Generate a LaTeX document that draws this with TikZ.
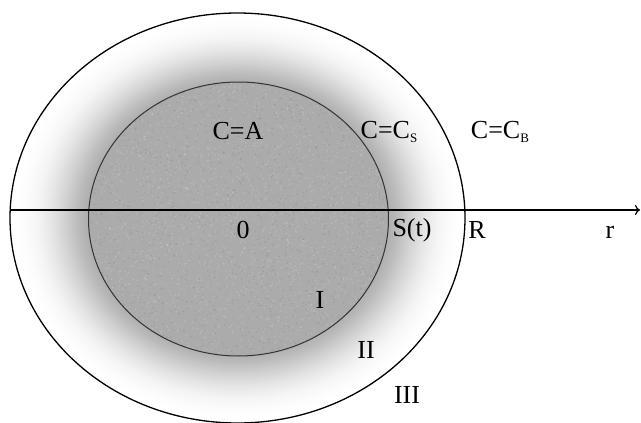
\documentclass[tikz,border=0pt]{standalone}
\usepackage{fontspec}
\setmainfont{Liberation Serif}
\usetikzlibrary{arrows.meta}
\pgfdeclareradialshading{annulus}{\pgfpoint{0bp}{0bp}}{%
  color(0bp)=(black!34);
  color(16bp)=(black!34);
  color(17.5bp)=(black!27);
  color(19bp)=(black!18);
  color(20.5bp)=(black!10);
  color(22bp)=(black!4);
  color(23.5bp)=(black!1);
  color(24.5bp)=(white);
  color(50bp)=(white)}
\tikzset{
  lbl/.style={font=\fontsize{26}{28}\selectfont, inner sep=0pt},
}
\newcommand{\subS}[1]{\raisebox{-4pt}{\fontsize{13}{14}\selectfont #1}}
\begin{document}
\begin{tikzpicture}[x=1pt,y=-1pt]
\useasboundingbox (0,0) rectangle (641,423);
% region II gradient
\shade[shading=annulus] (237.5,218) ellipse [x radius=227.5, y radius=205];
% region I (grainy grey)
\fill[black!33] (238.5,219) ellipse [x radius=150, y radius=137];
\begin{scope}
  \clip (238.5,219) ellipse [x radius=150, y radius=137];
  \pgfmathsetseed{7}
  \foreach \i in {1,...,2200} {
    \fill[white, opacity=0.18] ({238.5+150*rand},{219+137*rand}) circle (0.8);
  }
  \foreach \i in {1,...,1500} {
    \fill[black, opacity=0.08] ({238.5+150*rand},{219+137*rand}) circle (0.8);
  }
\end{scope}
\draw[line width=1pt, black!80] (238.5,219) ellipse [x radius=150, y radius=137];
\draw[line width=1.3pt] (237.5,218) ellipse [x radius=227.5, y radius=205];
% axis
\coordinate (axL) at (10,210);
\coordinate (axR) at (640,210);
\draw[line width=2pt, -{To[length=5pt,width=10pt,line width=1.2pt]}] (axL) -- (axR);
% labels
\node[lbl] (cA) at (238,131) {C=A};
\node[lbl] (cS) at (389,132) {C=C\subS{S}};
\node[lbl] (cB) at (500,132) {C=C\subS{B}};
\node[lbl] (o) at (243,230) {0};
\node[lbl] (s) at (412,230) {S(t)};
\node[lbl] (R) at (477,230) {R};
\node[lbl] (r) at (610,232) {r};
\node[lbl] (I) at (320,300) {I};
\node[lbl] (II) at (366,350) {II};
\node[lbl] (III) at (407,395) {III};
\end{tikzpicture}
\end{document}
